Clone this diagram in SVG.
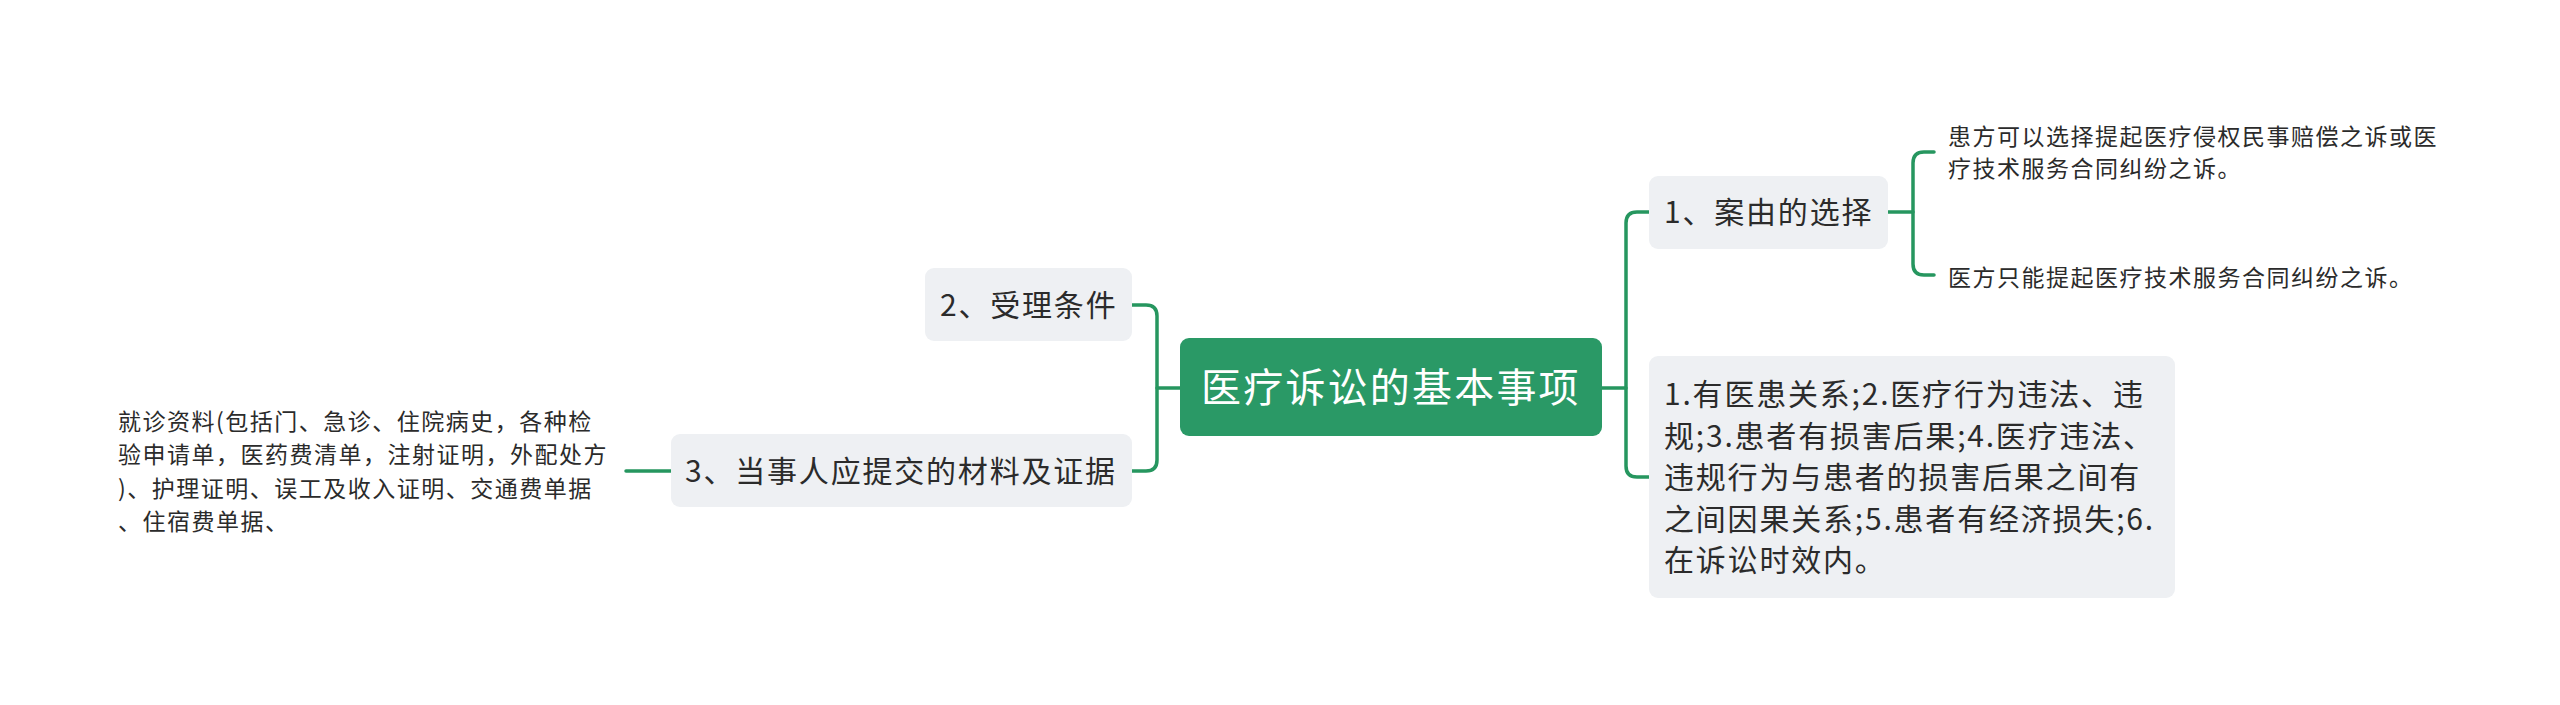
<svg xmlns="http://www.w3.org/2000/svg" width="2560" height="705" viewBox="0 0 2560 705">
<style>
.box{fill:#eef0f3}
.root{fill:#2a9966}
.t{font-family:"Noto Sans CJK SC","Noto Sans",sans-serif;fill:#2b2b2b}
.l1{font-size:30px;letter-spacing:1.8px}
.lf{font-size:23px;letter-spacing:1.5px}
.rt{font-size:40px;letter-spacing:2.2px;fill:#ffffff}
.c{fill:none;stroke:#26965f;stroke-width:3.5;stroke-linecap:round}
</style>
<rect width="2560" height="705" fill="#ffffff"/>
<g id="connectors">
<path class="c" d="M1602,388 H1626"/>
<path class="c" d="M1649,212 H1637 Q1626,212 1626,223 V466 Q1626,477 1637,477 H1649"/>
<path class="c" d="M1888,212 H1913"/>
<path class="c" d="M1934,152 H1924 Q1913,152 1913,163 V264 Q1913,275 1924,275 H1934"/>
<path class="c" d="M1180,388 H1157"/>
<path class="c" d="M1132,305 H1146 Q1157,305 1157,316 V460 Q1157,471 1146,471 H1132"/>
<path class="c" d="M671,471 H626"/>
</g>
<g id="root">
<rect class="root" x="1180" y="338" width="422" height="98" rx="9"/>
<text class="t rt" x="1201" y="402">医疗诉讼的基本事项</text>
</g>
<g id="n1">
<rect class="box" x="1649" y="176" width="239" height="73" rx="9"/>
<text class="t l1" x="1664" y="223">1、案由的选择</text>
</g>
<g id="n1a">
<text class="t lf" x="1948" y="145">患方可以选择提起医疗侵权民事赔偿之诉或医</text>
<text class="t lf" x="1948" y="177">疗技术服务合同纠纷之诉。</text>
</g>
<g id="n1b">
<text class="t lf" x="1948" y="286">医方只能提起医疗技术服务合同纠纷之诉。</text>
</g>
<g id="n4">
<rect class="box" x="1649" y="356" width="526" height="242" rx="9"/>
<text class="t l1" x="1664" y="405">1.有医患关系;2.医疗行为违法、违</text>
<text class="t l1" x="1664" y="447">规;3.患者有损害后果;4.医疗违法、</text>
<text class="t l1" x="1664" y="488">违规行为与患者的损害后果之间有</text>
<text class="t l1" x="1664" y="530">之间因果关系;5.患者有经济损失;6.</text>
<text class="t l1" x="1664" y="571">在诉讼时效内。</text>
</g>
<g id="n2">
<rect class="box" x="925" y="268" width="207" height="73" rx="9"/>
<text class="t l1" x="940" y="316">2、受理条件</text>
</g>
<g id="n3">
<rect class="box" x="671" y="434" width="461" height="73" rx="9"/>
<text class="t l1" x="685" y="482">3、当事人应提交的材料及证据</text>
</g>
<g id="n3a">
<text class="t lf" x="118" y="430">就诊资料(包括门、急诊、住院病史，各种检</text>
<text class="t lf" x="118" y="463">验申请单，医药费清单，注射证明，外配处方</text>
<text class="t lf" x="118" y="497">)、护理证明、误工及收入证明、交通费单据</text>
<text class="t lf" x="118" y="530">、住宿费单据、</text>
</g>
</svg>
